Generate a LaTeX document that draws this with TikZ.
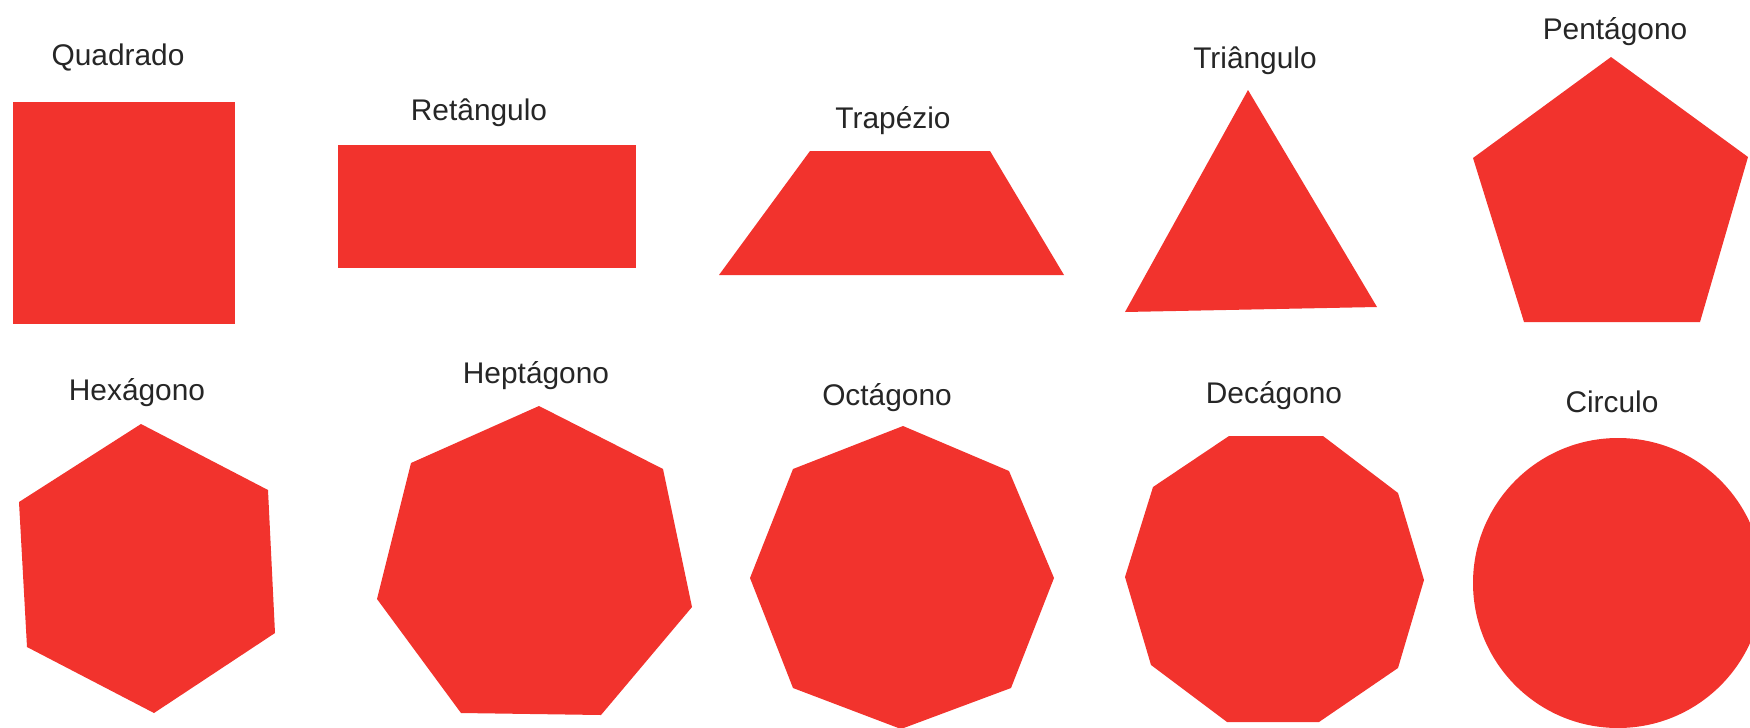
\documentclass[tikz,border=0pt]{standalone}
\usepackage{fontspec}
\setmainfont{Liberation Sans}
\usepackage{xcolor}
\usepackage{tikz}
\usetikzlibrary{calc, positioning}

\definecolor{shapered}{RGB}{242,51,45}

\begin{document}
\begin{tikzpicture}[
    x=0.02cm, y=-0.02cm,
    figura/.style={fill=shapered, draw=none},
    % rotulos: ancorados na linha de base do texto
    rotulo/.style={anchor=base, inner sep=0pt, font=\fontsize{17}{20}\selectfont, text=black!85}
]
\useasboundingbox (0,0) rectangle (1750,727);
\clip (0,0) rectangle (1750,727);

% --- linha de cima ---
\node[rotulo] (lquad) at (118,65) {Quadrado};
\fill[figura] (13,102) rectangle (235,324);

\node[rotulo] (lret) at (479,120) {Retângulo};
\fill[figura] (338,145) rectangle (636,268);

\node[rotulo] (ltrap) at (893,128) {Trapézio};
\fill[figura] (810,151) -- (990,151) -- (1064,275) -- (719,275) -- cycle;

\node[rotulo] (ltri) at (1255,68) {Triângulo};
\fill[figura] (1248,90) -- (1377,307) -- (1125,312) -- cycle;

\node[rotulo] (lpent) at (1615,39) {Pentágono};
\fill[figura] (1611,57) -- (1748,157) -- (1700,322) -- (1524,322) -- (1473,158) -- cycle;

% --- linha de baixo ---
\node[rotulo] (lhex) at (137,400) {Hexágono};
\fill[figura] (141,424) -- (268,490) -- (275,633) -- (154,713) -- (27,647) -- (19,502) -- cycle;

\node[rotulo] (lhep) at (536,383) {Heptágono};
\fill[figura] (539,406) -- (663,469) -- (692,607) -- (601,715) -- (461,713) -- (377,599) -- (411,463) -- cycle;

\node[rotulo] (loct) at (887,405) {Octágono};
\fill[figura] (903,426) -- (1009,471) -- (1054,578) -- (1011,688) -- (901,729) -- (793,688) -- (750,578) -- (793,469) -- cycle;

\node[rotulo] (ldec) at (1274,403) {Decágono};
\fill[figura] (1229,436) -- (1323,436) -- (1398,493) -- (1424,580) -- (1398,668) -- (1319,722) -- (1227,722) -- (1151,665) -- (1125,577) -- (1153,487) -- cycle;

\node[rotulo] (lcirc) at (1612,412) {Circulo};
\fill[figura] (1618,583) circle[radius=145];

\end{tikzpicture}
\end{document}
